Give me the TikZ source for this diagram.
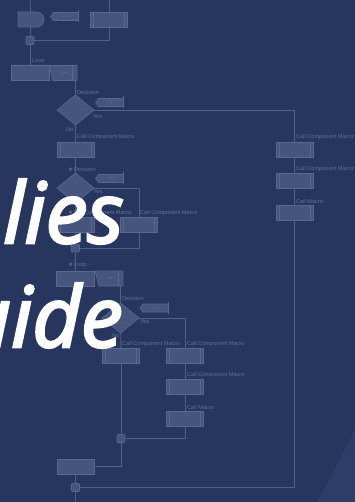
\documentclass[tikz,border=0pt]{standalone}
\usepackage{fontspec}
\setmainfont{Open Sans}
\newfontfamily\titlefont{Open Sans}[FakeBold=3]
\newfontfamily\labelfont{Liberation Sans}
\newfontfamily\symfont{DejaVu Sans}
\usetikzlibrary{shapes.geometric,shapes.misc,shapes.symbols}
\definecolor{navy}{RGB}{39,54,94}
\definecolor{navylight}{RGB}{46,61,103}
\definecolor{chartfill}{RGB}{70,85,126}
\definecolor{chartdraw}{RGB}{90,104,145}
\definecolor{chartline}{RGB}{82,96,137}
\definecolor{chartlabel}{RGB}{100,113,152}
\tikzset{
  flow/.style={draw=chartline,line width=0.9pt},
  blk/.style={draw=chartdraw,fill=chartfill,line width=0.6pt,inner sep=0pt,outer sep=0pt},
  macro/.style={blk,rectangle,minimum width=37pt,minimum height=15pt,
    path picture={\draw[chartdraw,line width=0.5pt]
      ([xshift=3pt]path picture bounding box.north west) -- ([xshift=3pt]path picture bounding box.south west)
      ([xshift=-3pt]path picture bounding box.north east) -- ([xshift=-3pt]path picture bounding box.south east);}},
  delay/.style={blk,rounded rectangle,rounded rectangle left arc=none,minimum width=26pt,minimum height=15pt},
  joint/.style={blk,rectangle,rounded corners=1pt,minimum size=8pt},
  decide/.style={blk,diamond,minimum width=37pt,minimum height=30pt},
  loopbeg/.style={blk,chamfered rectangle,chamfered rectangle corners={north west,north east},
    chamfered rectangle xsep=4pt,minimum width=38pt,minimum height=15pt},
  loopend/.style={blk,chamfered rectangle,chamfered rectangle corners={south west,south east},
    chamfered rectangle xsep=4pt,minimum width=37pt,minimum height=15pt},
  tag/.style={blk,signal,signal to=west,signal pointer angle=110,minimum width=28pt,minimum height=8pt,
    font=\labelfont\fontsize{4}{4}\selectfont,text=chartlabel},
  looptag/.style={blk,trapezium,trapezium left angle=90,trapezium right angle=65,shape border rotate=180,
    trapezium stretches=true,minimum width=28pt,minimum height=15pt,
    font=\labelfont\fontsize{4}{4}\selectfont,text=chartlabel},
  bar/.style={draw=chartdraw,line width=1.2pt},
  lbl/.style={font=\labelfont\fontsize{5.6}{6}\selectfont,text=chartlabel,anchor=west,inner sep=0pt},
  big/.style={font=\titlefont\fontsize{84}{84}\selectfont\itshape,text=white,inner sep=0pt}
}
\begin{document}
\begin{tikzpicture}[x=1pt,y=-1pt]
  \useasboundingbox (0,0) rectangle (355,502);
  \clip (0,0) rectangle (355,502);
  \fill[navy] (0,0) rectangle (355,502);
  \fill[navylight] (355,430) -- (317,502) -- (355,502) -- cycle;

  % outer loop head
  \coordinate (top1) at (30,0);
  \coordinate (top2) at (109,0);
  \coordinate (bot) at (75.5,502);
  \node[delay] (start) at (31,19.5) {};
  \node[tag] (t1) at (66,16.5) {1 f s};
  \node[macro] (pre) at (109,19.5) {};
  \node[joint] (j1) at (30,40.5) {};
  \node[loopbeg] (loop1) at (30,72.5) {};
  \node[looptag] (t2) at (65,73) {v/h 4};

  % first decision
  \node[decide] (d1) at (75.5,110) {};
  \node[tag] (t3) at (111,102.5) {4 0 1};
  \node[macro] (m1) at (75.5,150) {};
  \node[decide] (d2) at (75.5,188) {};
  \node[tag] (t4) at (111,178.5) {4 0 1};
  \node[macro] (m2) at (75.5,225) {};
  \node[macro] (m3) at (139,225) {};
  \node[joint] (j2) at (75.5,248) {};

  % inner loop
  \node[loopbeg] (loop2) at (75.5,278.5) {};
  \node[looptag] (t5) at (111,278.5) {v/h 4};
  \node[decide] (d3) at (120.5,318) {};
  \node[tag] (t6) at (155.5,308) {4 0 1};
  \node[macro] (m4) at (121,355.5) {};
  \node[macro] (m5) at (185,355.5) {};
  \node[macro] (m6) at (185,387) {};
  \node[macro] (m7) at (185,418.5) {};
  \node[joint] (j3) at (121,438.5) {};
  \node[loopend] (end2) at (75.5,466.5) {};
  \node[joint] (j4) at (75.5,487.5) {};

  % right branch
  \node[macro] (r1) at (294.5,149.5) {};
  \node[macro] (r2) at (294.5,180.5) {};
  \node[macro] (r3) at (294.5,212.5) {};

  \foreach \t in {t1,t3,t4,t6}
    \draw[bar] ([yshift=2pt]\t.north east) -- ([yshift=-2pt]\t.south east);
  \foreach \t in {t2,t5}
    \draw[bar] (\t.north east) -- (\t.south east);

  % connectors
  \draw[flow] (start) -- (top1);
  \draw[flow] (pre) -- (top2);
  \draw[flow] (start) -- (j1);
  \draw[flow] (pre) |- (j1);
  \draw[flow] (j1) -- (loop1);
  \draw[flow] (t2.south -| d1.north) -- (d1);
  \draw[flow] (d1.east) -| (r1);
  \draw[flow] (r1) -- (r2);
  \draw[flow] (r2) -- (r3);
  \draw[flow] (r3) |- (j4);
  \draw[flow] (d1) -- (m1);
  \draw[flow] (m1) -- (d2);
  \draw[flow] (d2) -- (m2);
  \draw[flow] (d2.east) -| (m3);
  \draw[flow] (m2) -- (j2);
  \draw[flow] (m3) |- (j2);
  \draw[flow] (j2) -- (loop2);
  \draw[flow] (t5.south -| d3.north) -- (d3);
  \draw[flow] (d3) -- (m4);
  \draw[flow] (d3.east) -| (m5);
  \draw[flow] (m5) -- (m6);
  \draw[flow] (m6) -- (m7);
  \draw[flow] (m4) -- (j3);
  \draw[flow] (m7) |- (j3);
  \draw[flow] (j3) |- (end2.east);
  \draw[flow] (end2) -- (j4);
  \draw[flow] (j4) -- (bot);

  % labels
  \node[lbl] (a1) at (32,61) {Loop};
  \node[lbl] (a2) at (77,93) {Decision};
  \node[lbl] (a3) at (93,116.5) {Yes};
  \node[lbl] (a4) at (66,130) {No};
  \node[lbl] (a5) at (77,137) {Call Component Macro};
  \node[lbl] (a6) at (68,169) {{\symfont ★}\,Decision};
  \node[lbl] (a7) at (93,192) {Yes};
  \node[lbl] (a8) at (68,213) {{\symfont ★}\,Call Component Macro};
  \node[lbl] (a9) at (140,213) {Call Component Macro};
  \node[lbl] (a10) at (68,265) {{\symfont ★}\,Loop};
  \node[lbl] (a11) at (122,298) {Decision};
  \node[lbl] (a12) at (140,322) {Yes};
  \node[lbl] (a13) at (112,336) {No};
  \node[lbl] (a14) at (122,344) {Call Component Macro};
  \node[lbl] (a15) at (187,344) {Call Component Macro};
  \node[lbl] (a16) at (187,375) {Call Component Macro};
  \node[lbl] (a17) at (187,407) {Call Macro};
  \node[lbl] (a18) at (296,137) {Call Component Macro};
  \node[lbl] (a19) at (296,169) {Call Component Macro};
  \node[lbl] (a20) at (296,201) {Call Macro};

  % title fragments
  \node[big,anchor=base east] (w1) at (124,243) {lies};
  \node[big,anchor=base east] (w2) at (123,347) {uide};
\end{tikzpicture}
\end{document}
